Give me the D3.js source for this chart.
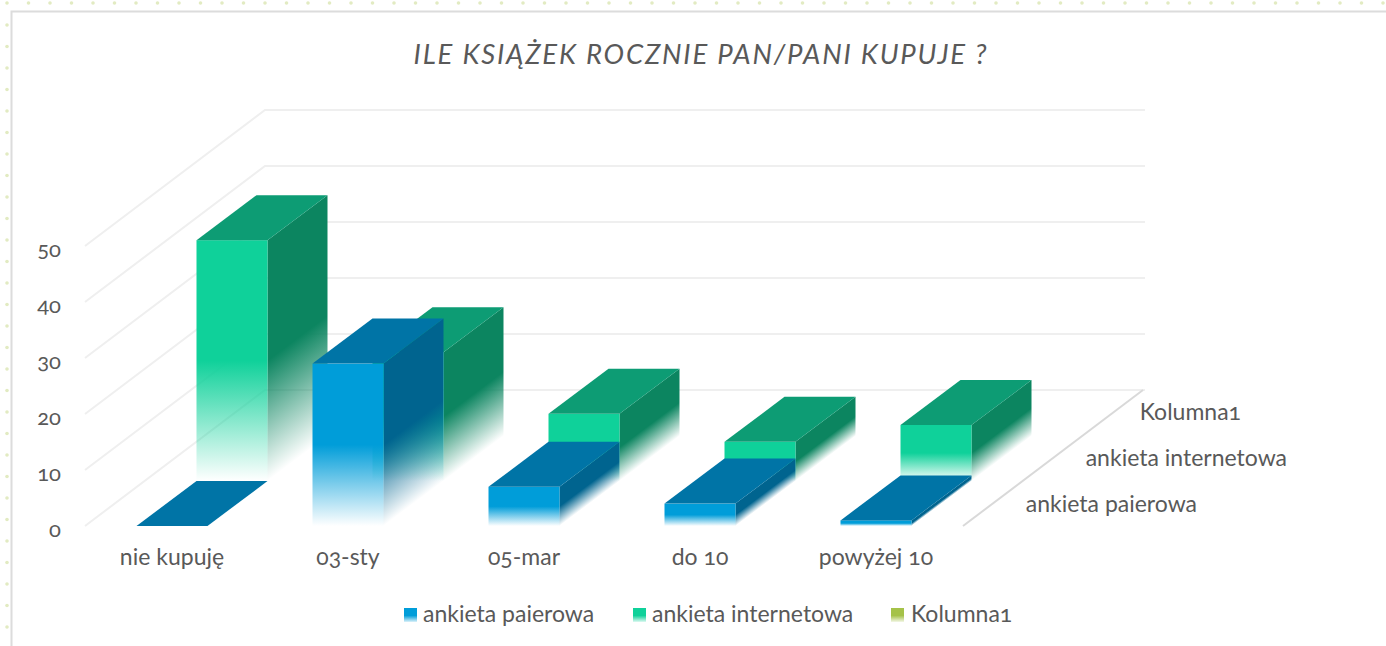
<!DOCTYPE html>
<html><head><meta charset="utf-8">
<script src="https://cdn.jsdelivr.net/npm/d3@7/dist/d3.min.js"></script>
<style>
html,body{margin:0;padding:0;background:#fff;overflow:hidden}
svg{display:block}
text{font-family:Lato,"Open Sans",sans-serif;fill:#595959;font-feature-settings:"onum" 1;font-variant-numeric:oldstyle-nums}
</style></head><body>
<svg id="c" width="1386" height="646"></svg>
<script>
const titleText = "ILE KSIĄŻEK ROCZNIE PAN/PANI KUPUJE ?";
const categories = ["nie kupuję","03-sty","05-mar","do 10","powyżej 10"];
const seriesNames = ["ankieta paierowa","ankieta internetowa","Kolumna1"];
const paperValues = [0,29,7,4,1];
const internetValues = [43,23,12,7,10];
const thirdValues = [];
const tickValues = [0,10,20,30,40,50];
const frontColors = ["#009dd9","#0fd19a","#a5c249"];
const topColors = ["#0074a6","#0d9c74"];
const sideColors = ["#00648f","#0c8560"];

const svg = d3.select("#c"), defs = svg.append("defs");

// page decoration
const deco = svg.append("g");
deco.selectAll(".dt").data(d3.range(7,1386,21.5)).join("circle").attr("cx",d=>d).attr("cy",3).attr("r",1.8).attr("fill","#e2ebc2");
deco.selectAll(".dl").data(d3.range(25,646,21.5)).join("circle").attr("cx",7).attr("cy",d=>d).attr("r",1.8).attr("fill","#e2ebc2");
deco.append("path").attr("d","M11.5 646V11.5H1386").attr("fill","none").attr("stroke","#dcdcdc").attr("stroke-width",2);

const y = d3.scaleLinear().domain([0,50]).range([526,246]);
const x = d3.scaleBand().domain(categories).range([136.5,136.5+176*5]).paddingInner(0).paddingOuter(0);
const rowDx=60,rowDy=-45,barW=71;
const wallDx=180,wallDy=-136,floorL=85,floorR=963;

// grid
const grid=svg.append("g").attr("fill","none").attr("stroke","#efefef").attr("stroke-width",2);
grid.selectAll("path").data(tickValues).join("path")
 .attr("d",t=>`M${floorL} ${y(t)}L${floorL+wallDx} ${y(t)+wallDy}H${floorR+wallDx+2}`);
svg.append("path").attr("d",`M${floorR} ${y(0)}L${floorR+wallDx} ${y(0)+wallDy}`).attr("fill","none").attr("stroke","#d9d9d9").attr("stroke-width",2);

// value axis
const axis=d3.axisLeft(y).tickValues(tickValues).tickSize(0).tickPadding(0).tickFormat(d3.format("d"));
const ag=svg.append("g").attr("transform","translate(61,0)").call(axis);
ag.select(".domain").remove();
ag.selectAll("text").style("font-size","22px").style("font-family",null).attr("fill",null).attr("dy","0.46em");

function gradient(id,color,y1,y2,tr){
 const g=defs.append("linearGradient").attr("id",id).attr("gradientUnits","userSpaceOnUse")
  .attr("x1",0).attr("x2",0).attr("y1",y1).attr("y2",y2);
 if(tr) g.attr("gradientTransform",tr);
 g.append("stop").attr("offset",0).attr("stop-color",color);
 g.append("stop").attr("offset",.5).attr("stop-color",color);
 g.append("stop").attr("offset",1).attr("stop-color",color).attr("stop-opacity",0);
}
const pts=a=>a.map(p=>p.join(",")).join(" ");
function drawSeries(values,s){
 const g=svg.append("g");
 values.forEach((v,i)=>{
  const x0=x(categories[i])+s*rowDx, x1=x0+barW;
  const b=y(0)+s*rowDy, t=y(v)+s*rowDy;
  if(v>0){
   gradient(`f${s}${i}`,frontColors[s],t,b);
   gradient(`d${s}${i}`,sideColors[s],t,b,`matrix(1 ${rowDy/rowDx} 0 1 0 ${-rowDy/rowDx*x1})`);
   g.append("polygon").attr("points",pts([[x1,t],[x1+rowDx,t+rowDy],[x1+rowDx,b+rowDy],[x1,b]])).attr("fill",`url(#d${s}${i})`);
   g.append("rect").attr("x",x0).attr("y",t).attr("width",barW).attr("height",b-t).attr("fill",`url(#f${s}${i})`);
  }
  g.append("polygon").attr("points",pts([[x0,t],[x1,t],[x1+rowDx,t+rowDy],[x0+rowDx,t+rowDy]])).attr("fill",topColors[s]);
 });
}
drawSeries(internetValues,1);
drawSeries(paperValues,0);

// category labels
svg.append("g").selectAll("text").data(categories).join("text")
 .attr("x",d=>x(d)+35.5).attr("y",565).attr("text-anchor","middle").style("font-size","23px").text(d=>d);

// depth labels
const depthX=[1197,1287,1241],depthY=[512,466,420];
svg.append("g").selectAll("text").data(seriesNames).join("text")
 .attr("x",(d,i)=>depthX[i]).attr("y",(d,i)=>depthY[i]).attr("text-anchor","end").style("font-size","23px").text(d=>d);

// title
svg.append("text").attr("x",701).attr("y",64).attr("text-anchor","middle")
 .style("font-size","27.5px").style("font-style","italic").style("letter-spacing","1.8px").text(titleText);

// legend
const lx=[404,633,891],tx=[423,652,911];
const lg=svg.append("g");
seriesNames.forEach((n,i)=>{
 gradient(`l${i}`,frontColors[i],608,623);
 lg.append("rect").attr("x",lx[i]).attr("y",608).attr("width",13).attr("height",14).attr("fill",`url(#l${i})`);
 lg.append("text").attr("x",tx[i]).attr("y",622).style("font-size","23px").text(n);
});
</script></body></html>
